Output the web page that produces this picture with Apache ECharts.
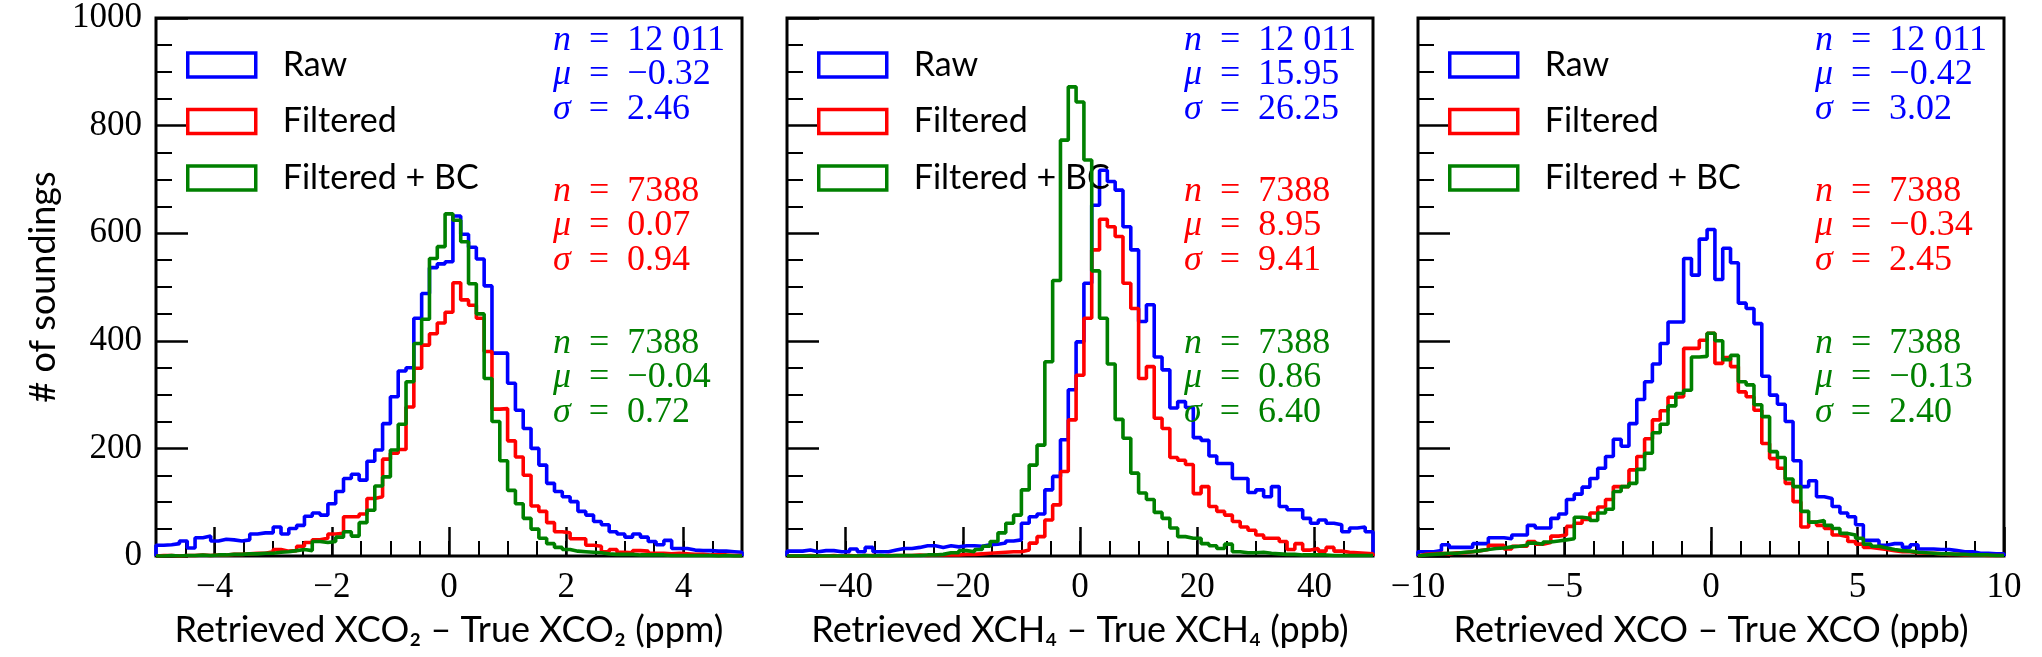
<!DOCTYPE html>
<html><head><meta charset="utf-8">
<script src="https://cdn.jsdelivr.net/npm/echarts@6/dist/echarts.min.js"></script>
<style>html,body{margin:0;padding:0;background:#fff;}#c{width:2042px;height:657px;}</style>
</head><body><div id="c"></div>
<script>
// ---------- data (75 bins per panel) ----------
const nBins = 75;
const xco2Range = [-5, 5];
const xch4Range = [-50, 50];
const xcoRange = [-10, 10];

const xco2Raw = [20,21,23,28,15,34,37,28,31,30,
 28,30,41,43,43,54,41,51,57,74,
 80,76,97,120,144,152,141,176,197,246,
 296,344,350,442,488,536,543,547,632,598,
 574,552,502,377,377,321,271,237,200,169,
 135,120,110,101,83,76,64,58,45,41,
 35,41,35,27,21,29,14,14,11,10,
 10,9,9,8,7];
const xco2Filtered = [1,1,0,1,1,2,1,2,2,3,
 3,4,5,5,8,12,9,10,18,25,
 30,33,41,42,73,73,78,107,110,180,
 191,198,277,349,392,413,433,453,508,476,
 466,442,380,273,274,214,184,150,93,83,
 62,45,43,32,32,20,18,8,12,7,
 6,10,9,5,5,4,5,4,3,3,
 2,2,2,1,1];
const xco2BC = [0,1,0,1,1,2,1,2,2,3,
 3,4,4,5,5,7,8,10,12,10,
 27,25,27,35,45,37,62,85,130,147,
 197,245,324,395,440,553,575,636,624,584,
 506,450,330,250,177,122,97,70,50,33,
 23,16,12,9,8,7,6,4,3,3,
 3,2,2,2,2,1,1,1,1,1,
 1,0,1,0,0];

const xch4Raw = [9,9,11,8,10,10,8,8,13,8,
 16,8,8,11,14,14,16,19,19,16,
 19,17,19,19,18,21,22,24,28,30,
 61,73,78,123,148,216,309,398,507,652,
 717,696,680,612,569,436,467,370,346,275,
 287,276,220,215,186,172,172,144,144,118,
 123,110,129,92,86,86,70,61,67,61,
 58,45,52,54,45];
const xch4Filtered = [0,0,1,0,0,1,0,1,0,1,
 1,0,1,1,1,1,2,1,2,2,
 2,2,3,3,4,5,6,7,8,8,
 11,24,36,67,95,157,253,336,442,569,
 626,612,594,507,460,330,352,256,237,183,
 178,170,116,129,92,83,76,64,54,48,
 39,33,33,27,12,23,11,14,9,16,
 9,7,6,5,4];
const xch4BC = [0,0,0,0,0,0,0,0,0,1,
 0,1,0,1,1,1,1,2,2,3,
 6,6,10,8,12,18,27,43,61,76,
 123,169,206,361,512,773,872,844,736,530,
 442,357,254,219,154,117,105,81,70,52,
 36,33,33,23,19,14,22,8,6,6,
 7,5,4,3,3,2,2,2,2,1,
 1,1,1,1,1];

const xcoRaw = [8,8,10,21,16,16,16,23,23,34,
 34,32,39,39,57,52,52,70,78,105,
 115,128,144,163,185,217,204,246,291,324,
 357,395,435,435,553,522,589,607,514,572,
 545,470,460,432,334,299,282,250,177,129,
 140,110,107,92,80,73,58,29,29,20,
 23,23,16,21,13,13,12,12,10,8,
 8,5,5,4,4];
const xcoFiltered = [3,4,5,4,6,6,8,10,12,20,
 20,13,18,18,27,22,25,37,39,55,
 61,68,80,91,105,129,129,160,185,218,
 253,270,295,296,386,386,401,414,358,369,
 352,305,296,271,209,181,163,135,101,54,
 63,57,51,39,36,27,22,16,14,12,
 10,8,8,6,5,5,4,3,3,2,
 2,2,1,1,1];
const xcoBC = [2,3,4,5,5,7,8,10,12,14,
 15,17,18,20,24,22,26,28,30,32,
 72,70,66,80,87,120,129,135,161,191,
 229,245,279,302,308,370,371,414,400,365,
 373,324,318,281,259,194,183,143,129,83,
 63,66,57,51,42,39,33,22,18,15,
 12,10,9,7,6,5,4,4,3,3,
 2,2,2,1,1];

const seriesNames = ['Raw', 'Filtered', 'Filtered + BC'];
const statN = ['12 011', '7388', '7388'];
const xco2Mu = ['\u22120.32', '0.07', '\u22120.04'];
const xco2Sigma = ['2.46', '0.94', '0.72'];
const xch4Mu = ['15.95', '8.95', '0.86'];
const xch4Sigma = ['26.25', '9.41', '6.40'];
const xcoMu = ['\u22120.42', '\u22120.34', '\u22120.13'];
const xcoSigma = ['3.02', '2.45', '2.40'];

const xco2Ticks = [-4, -2, 0, 2, 4];
const xch4Ticks = [-40, -20, 0, 20, 40];
const xcoTicks = [-10, -5, 0, 5, 10];

const xco2Title = 'Retrieved XCO\u2082 \u2013 True XCO\u2082 (ppm)';
const xch4Title = 'Retrieved XCH\u2084 \u2013 True XCH\u2084 (ppb)';
const xcoTitle = 'Retrieved XCO \u2013 True XCO (ppb)';
const yTitle = '# of soundings';

// ---------- styling / layout ----------
const colors = ['#0000ff', '#ff0000', '#008000'];
const SANS = "Lato, 'DejaVu Sans', sans-serif";
const SERIF = "'Liberation Serif', 'DejaVu Serif', serif";
const gridLeft = [156, 787, 1418];
const gridW = 586, gridTop = 18, gridH = 538;
const EQ = '  =  ';

const panels = [
  {range: xco2Range, data: [xco2Raw, xco2Filtered, xco2BC], ticks: xco2Ticks, minor: 0.5, title: xco2Title, mu: xco2Mu, sigma: xco2Sigma},
  {range: xch4Range, data: [xch4Raw, xch4Filtered, xch4BC], ticks: xch4Ticks, minor: 5, title: xch4Title, mu: xch4Mu, sigma: xch4Sigma},
  {range: xcoRange, data: [xcoRaw, xcoFiltered, xcoBC], ticks: xcoTicks, minor: 1, title: xcoTitle, mu: xcoMu, sigma: xcoSigma}
];

function stepPoints(counts, range) {
  const w = (range[1] - range[0]) / nBins;
  const pts = [[range[0], 0]];
  counts.forEach((c, k) => pts.push([range[0] + k * w, c]));
  pts.push([range[1], counts[counts.length - 1]]);
  pts.push([range[1], 0]);
  return pts;
}
const fmt = v => (v < 0 ? '\u2212' + Math.abs(v) : String(v));

const grid = [], xAxis = [], yAxis = [], series = [], legend = [], title = [];
panels.forEach((p, i) => {
  grid.push({left: gridLeft[i], top: gridTop, width: gridW, height: gridH, show: true,
    borderColor: '#000', borderWidth: 3, backgroundColor: 'transparent', containLabel: false});
  xAxis.push({type: 'value', gridIndex: i, min: p.range[0], max: p.range[1], position: 'bottom',
    axisLine: {show: false, onZero: false}, splitLine: {show: false},
    axisTick: {show: true, inside: true, length: 29, customValues: p.ticks, lineStyle: {color: '#000', width: 2.5}},
    axisLabel: {show: true, customValues: p.ticks, formatter: fmt, margin: 14, color: '#000',
      fontFamily: SERIF, fontSize: 35},
    name: p.title, nameLocation: 'middle', nameGap: 55,
    nameTextStyle: {fontFamily: SANS, fontSize: 36, color: '#000', lineHeight: 38}});
  xAxis.push({type: 'value', gridIndex: i, min: p.range[0], max: p.range[1], interval: p.minor, position: 'bottom',
    axisLine: {show: false, onZero: false}, splitLine: {show: false}, axisLabel: {show: false},
    axisTick: {show: true, inside: true, length: 15, lineStyle: {color: '#000', width: 2}}});
  yAxis.push({type: 'value', gridIndex: i, min: 0, max: 1000, interval: 200, position: 'left',
    axisLine: {show: false, onZero: false}, splitLine: {show: false},
    axisTick: {show: true, inside: true, length: 32, lineStyle: {color: '#000', width: 2.5}},
    minorTick: {show: true, splitNumber: 4, length: 16, lineStyle: {color: '#000', width: 2}},
    axisLabel: {show: i === 0, margin: 14, color: '#000', fontFamily: SERIF, fontSize: 35, formatter: v => String(v)},
    name: i === 0 ? yTitle : '', nameLocation: 'middle', nameGap: 94,
    nameTextStyle: {fontFamily: SANS, fontSize: 36, color: '#000', lineHeight: 38}});
  p.data.forEach((counts, s) => {
    series.push({type: 'line', name: seriesNames[s], xAxisIndex: 2 * i, yAxisIndex: i,
      step: 'end', symbol: 'none', data: stepPoints(counts, p.range), clip: true,
      lineStyle: {color: colors[s], width: 3.6}, itemStyle: {color: colors[s]}, z: 2 + s});
  });
  legend.push({left: gridLeft[i] + 30, top: 48, orient: 'vertical', padding: 0, itemGap: 22.5,
    itemWidth: 68, itemHeight: 24, selectedMode: false,
    textStyle: {fontFamily: SANS, fontSize: 34, color: '#000', lineHeight: 24, padding: [0, 0, 0, 22]},
    data: seriesNames.map((n, s) => ({name: n, icon: 'rect',
      itemStyle: {color: 'rgba(0,0,0,0)', borderColor: colors[s], borderWidth: 3.5}}))});
  const tops = [23, 174, 326];
  [0, 1, 2].forEach(s => {
    const rich = {i: {fontStyle: 'italic', fontFamily: SERIF, fontSize: 36, color: colors[s], lineHeight: 34.5}};
    title.push({left: gridLeft[i] + gridW - 189, top: tops[s], padding: 0, itemGap: 0,
      text: '{i|n}' + EQ + statN[s] + '\n{i|\u03bc}' + EQ + p.mu[s] + '\n{i|\u03c3}' + EQ + p.sigma[s],
      textStyle: {fontFamily: SERIF, fontSize: 36, fontWeight: 'normal', color: colors[s], lineHeight: 34.5, rich: rich}});
  });
});

const chart = echarts.init(document.getElementById('c'), null, {renderer: 'canvas'});
chart.setOption({animation: false, backgroundColor: '#fff', grid, xAxis, yAxis, series, legend, title});
</script></body></html>
